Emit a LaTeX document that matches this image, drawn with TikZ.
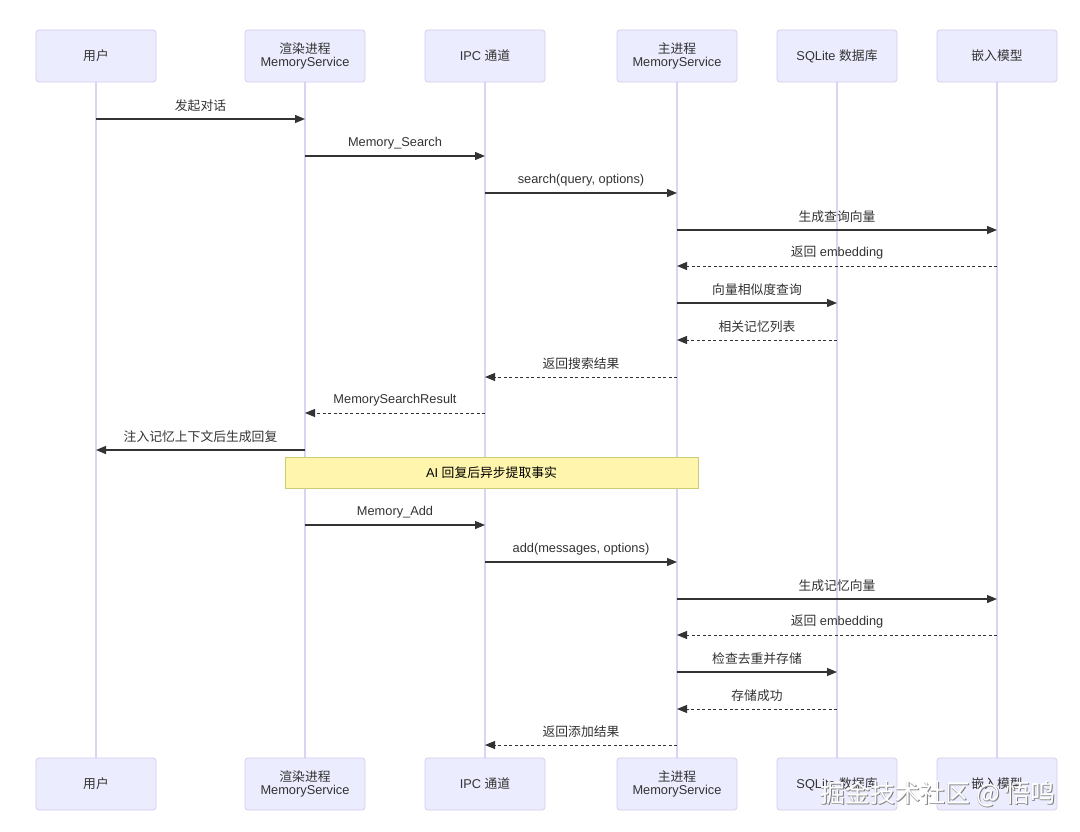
\documentclass[tikz,border=0pt]{standalone}
\usepackage{fontspec}
\setmainfont{Liberation Sans}
\newfontfamily\cjk{Noto Sans CJK SC}
\usetikzlibrary{arrows.meta,backgrounds}
\definecolor{actfill}{HTML}{ECECFF}
\definecolor{actline}{HTML}{D3CBEF}
\definecolor{lifecol}{HTML}{D9D4F0}
\definecolor{ink}{HTML}{333333}
\definecolor{notefill}{HTML}{FFF5AD}
\definecolor{noteline}{HTML}{CCCC77}
\tikzset{
  actor/.style={draw=actline, fill=actfill, rounded corners=3pt, minimum width=120pt,
    minimum height=52pt, align=center, font=\fontsize{12.8}{13.4}\selectfont, text=ink,
    line width=0.8pt, inner sep=0pt},
  life/.style={draw=lifecol, line width=1.2pt},
  msg/.style={draw=ink, line width=1.2pt, -{Triangle[length=10pt,width=8pt]}},
  reply/.style={msg, line width=1pt, dash pattern=on 3pt off 2.5pt},
  lbl/.style={font=\fontsize{12.8}{13.6}\selectfont, text=ink, inner sep=0pt, yshift=13pt},
  notebox/.style={draw=noteline, fill=notefill, line width=0.8pt, minimum width=413pt,
    minimum height=31pt, font=\fontsize{12.8}{13.6}\selectfont, text=black, inner sep=0pt},
  wmark/.style={font=\cjk\fontsize{25}{27}\selectfont, inner sep=0pt},
}
\newcommand\seqmsg[5]{\draw[#1] (#2 |- 0,#4) -- node[lbl]{#5} (#3 |- 0,#4);}
\begin{document}
\begin{tikzpicture}[x=1pt,y=-1pt]
\useasboundingbox (0,0) rectangle (1080,832);
% top actors
\node[actor] (user) at (96,56) {{\cjk 用户}};
\node[actor] (ren)  at (305,56) {{\cjk 渲染进程}\\MemoryService};
\node[actor] (ipc)  at (485,56) {IPC {\cjk 通道}};
\node[actor] (main) at (677,56) {{\cjk 主进程}\\MemoryService};
\node[actor] (db)   at (837,56) {SQLite {\cjk 数据库}};
\node[actor] (emb)  at (997,56) {{\cjk 嵌入模型}};
% bottom actors
\node[actor] (userB) at (96,784) {{\cjk 用户}};
\node[actor] (renB)  at (305,784) {{\cjk 渲染进程}\\MemoryService};
\node[actor] (ipcB)  at (485,784) {IPC {\cjk 通道}};
\node[actor] (mainB) at (677,784) {{\cjk 主进程}\\MemoryService};
\node[actor] (dbB)   at (837,784) {SQLite {\cjk 数据库}};
\node[actor] (embB)  at (997,784) {{\cjk 嵌入模型}};
% background and lifelines
\begin{scope}[on background layer]
\fill[white] (0,0) rectangle (1080,832);
\draw[life] (user) -- (userB);
\draw[life] (ren) -- (renB);
\draw[life] (ipc) -- (ipcB);
\draw[life] (main) -- (mainB);
\draw[life] (db) -- (dbB);
\draw[life] (emb) -- (embB);
\end{scope}
% messages
\seqmsg{msg}{user}{ren}{119}{{\cjk 发起对话}}
\seqmsg{msg}{ren}{ipc}{156}{Memory\_Search}
\seqmsg{msg}{ipc}{main}{193}{search(query, options)}
\seqmsg{msg}{main}{emb}{230}{{\cjk 生成查询向量}}
\seqmsg{reply}{emb}{main}{266}{{\cjk 返回} embedding}
\seqmsg{msg}{main}{db}{303}{{\cjk 向量相似度查询}}
\seqmsg{reply}{db}{main}{340}{{\cjk 相关记忆列表}}
\seqmsg{reply}{main}{ipc}{377}{{\cjk 返回搜索结果}}
\seqmsg{reply}{ipc}{ren}{413}{MemorySearchResult}
\seqmsg{msg}{ren}{user}{450}{{\cjk 注入记忆上下文后生成回复}}
\node[notebox] (note) at (491.5,472.5) {AI {\cjk 回复后异步提取事实}};
\seqmsg{msg}{ren}{ipc}{525}{Memory\_Add}
\seqmsg{msg}{ipc}{main}{562}{add(messages, options)}
\seqmsg{msg}{main}{emb}{599}{{\cjk 生成记忆向量}}
\seqmsg{reply}{emb}{main}{635}{{\cjk 返回} embedding}
\seqmsg{msg}{main}{db}{672}{{\cjk 检查去重并存储}}
\seqmsg{reply}{db}{main}{709}{{\cjk 存储成功}}
\seqmsg{reply}{main}{ipc}{745}{{\cjk 返回添加结果}}
% watermark
\node[wmark, text=black!55] (wmshadow) at (939.2,795.2) {掘金技术社区 @ 悟鸣};
\node[wmark, text=black!35] (wmshadow2) at (938.4,794.6) {掘金技术社区 @ 悟鸣};
\node[wmark, text=white] (wm) at (938,794) {掘金技术社区 @ 悟鸣};
\end{tikzpicture}
\end{document}
